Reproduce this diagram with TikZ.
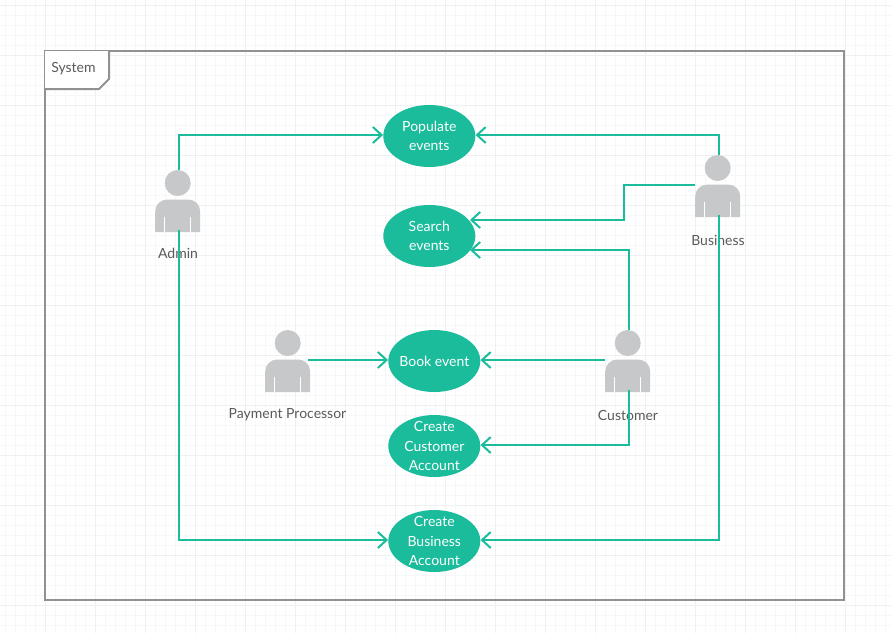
\documentclass[tikz,border=0pt]{standalone}
\usepackage{fontspec}
\setmainfont{Lato}
\usetikzlibrary{positioning,arrows.meta,shapes.geometric}
\definecolor{usecasegreen}{HTML}{1ABC9C}
\definecolor{actorgray}{HTML}{C7C8CA}
\definecolor{framegray}{HTML}{919191}
\definecolor{textgray}{HTML}{5A5A5A}
\definecolor{gridminor}{HTML}{F6F7F8}
\definecolor{gridmajor}{HTML}{EEF0F1}
\tikzset{
    usecase/.style={ellipse, fill=usecasegreen, text=white, font=\fontsize{10.5}{14.3}\selectfont, align=center, inner sep=-12pt, minimum width=69pt, minimum height=46.5pt},
    actorlabel/.style={text=textgray, font=\fontsize{10.5}{13}\selectfont, inner sep=0pt, anchor=base},
    link/.style={usecasegreen, line width=1.5pt, -{Straight Barb[length=6.5pt,width=12pt,line width=1.5pt]}}
}
% one actor figure, centred on the head
\newcommand{\actorfig}[2]{%
    \fill[actorgray] (#1,#2) circle (13);
    \fill[actorgray] (#1-22.5,#2+49) -- (#1-22.5,#2+28.5) arc[start angle=180,end angle=270,radius=12] -- (#1+10.5,#2+16.5) arc[start angle=270,end angle=360,radius=12] -- (#1+22.5,#2+49) -- cycle;
    \draw[white, line width=0.75pt] (#1-13,#2+34) -- (#1-13,#2+49);
    \draw[white, line width=0.75pt] (#1+13,#2+34) -- (#1+13,#2+49);
}
\begin{document}
\begin{tikzpicture}[x=0.75pt, y=-0.75pt]
    \useasboundingbox (0,0) rectangle (891,633);
    \fill[white] (0,0) rectangle (891,633);

    % Grid
    \foreach \gx in {5,15,...,885} {
        \draw[gridminor, line width=0.6pt] (\gx,0) -- (\gx,633);
    }
    \foreach \gy in {5,15,...,625} {
        \draw[gridminor, line width=0.6pt] (0,\gy) -- (891,\gy);
    }
    \foreach \gx in {45,95,...,845} {
        \draw[gridmajor, line width=0.6pt] (\gx,0) -- (\gx,633);
    }
    \foreach \gy in {5,55,...,605} {
        \draw[gridmajor, line width=0.6pt] (0,\gy) -- (891,\gy);
    }

    % Frame
    \draw[framegray, line width=1.5pt] (45,51) rectangle (844,600);
    \fill[white] (45,51) -- (109,51) -- (109,79) -- (99,89) -- (45,89) -- cycle;
    \draw[framegray, line width=1.5pt] (109,51) -- (109,79) -- (99,89) -- (45,89);
    \node[actorlabel, anchor=base west] (systemlabel) at (51,72) {System};

    % Actors
    \actorfig{177.7}{183}
    \actorfig{717.7}{168}
    \actorfig{287.7}{343}
    \actorfig{627.7}{343}
    \coordinate (adminhead) at (179,170);
    \coordinate (adminfoot) at (179,230);
    \coordinate (businesshead) at (719,155);
    \coordinate (businessfoot) at (719,215);
    \coordinate (businessarm) at (695,185);
    \coordinate (paymentarm) at (308,360);
    \coordinate (customerhead) at (629,330);
    \coordinate (customerarm) at (605,360);
    \coordinate (customerfoot) at (629,390);

    % Actor names
    \node[actorlabel] (adminlabel) at (178,258) {Admin};
    \node[actorlabel] (businesslabel) at (718,245) {Business};
    \node[actorlabel] (paymentlabel) at (287.5,418) {Payment Processor};
    \node[actorlabel] (customerlabel) at (628,420) {Customer};

    % Use cases
    \node[usecase] (populate) at (429.3,136) {Populate\\events};
    \node[usecase] (search) at (429.3,236) {Search\\events};
    \node[usecase] (book) at (434.3,361) {Book event};
    \node[usecase] (customeracc) at (434.3,446) {Create\\Customer\\Account};
    \node[usecase] (businessacc) at (434.3,541) {Create\\Business\\Account};
    \coordinate (searchtop) at (470,220);
    \coordinate (searchlow) at (470,250);

    % Links
    \draw[link] (adminhead) |- ([yshift=0.75pt]populate.west);
    \draw[link] (businesshead) |- ([yshift=0.75pt]populate.east);
    \draw[link] (businessarm) -- (624,185) -- (624,220) -- (searchtop);
    \draw[link] (customerhead) |- (searchlow);
    \draw[link] (paymentarm) -- (book.west |- paymentarm);
    \draw[link] (customerarm) -- (book.east |- customerarm);
    \draw[link] (customerfoot) |- ([yshift=0.75pt]customeracc.east);
    \draw[link] (adminfoot) |- ([yshift=0.75pt]businessacc.west);
    \draw[link] (businessfoot) |- ([yshift=0.75pt]businessacc.east);
\end{tikzpicture}
\end{document}
